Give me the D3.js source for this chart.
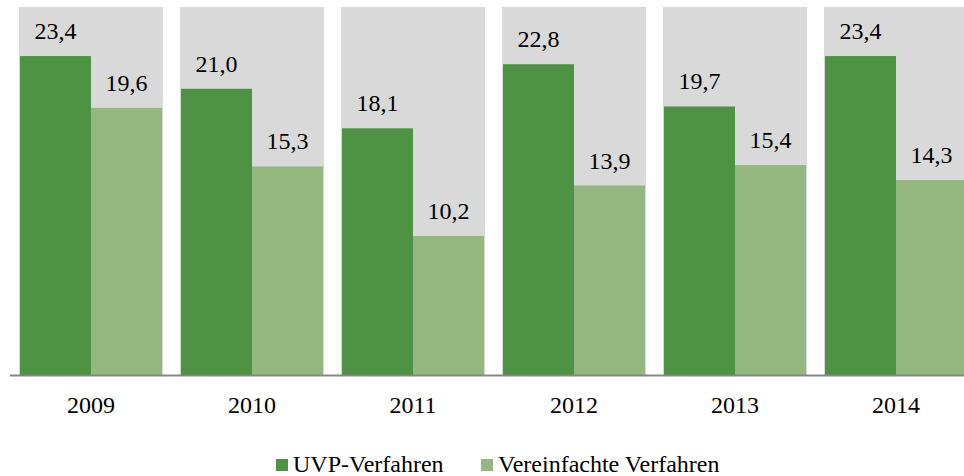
<!DOCTYPE html>
<html>
<head>
<meta charset="utf-8">
<script src="https://cdn.jsdelivr.net/npm/d3@7"></script>
<style>
  body { margin: 0; background: #fff; }
</style>
</head>
<body>
<div id="chart"></div>
<script>
var years = ["2009", "2010", "2011", "2012", "2013", "2014"];
var uvp = [23.4, 21.0, 18.1, 22.8, 19.7, 23.4];
var vereinfacht = [19.6, 15.3, 10.2, 13.9, 15.4, 14.3];
var seriesNames = ["UVP-Verfahren", "Vereinfachte Verfahren"];
var colors = ["#4e9244", "#93b77f"];

var width = 964, height = 476;
var plotLeft = 19, step = 161, gap = 17, plotTop = 7, base = 375;
var fontSize = "24px";
var serif = "'Liberation Serif', 'Times New Roman', serif";

var svg = d3.select("#chart").append("svg")
    .attr("width", width)
    .attr("height", height);

// category bands (grey panel = band, white gap between)
var x = d3.scaleBand()
    .domain(years)
    .range([plotLeft, plotLeft + step * years.length - gap])
    .paddingInner(gap / step)
    .paddingOuter(0);

var y = d3.scaleLinear()
    .domain([0, 27])
    .range([base, plotTop]);

var inner = d3.scaleBand()
    .domain([0, 1])
    .range([1, x.bandwidth() - 1]);

// grey panels
svg.selectAll(".panel")
    .data(years)
    .enter().append("rect")
    .attr("class", "panel")
    .attr("x", function (d) { return x(d); })
    .attr("y", y(27))
    .attr("width", x.bandwidth())
    .attr("height", y(0) - y(27))
    .attr("fill", "#d9d9d9");

var data = [uvp, vereinfacht];

data.forEach(function (vals, s) {
    var g = svg.append("g");
    g.selectAll("rect")
        .data(vals)
        .enter().append("rect")
        .attr("x", function (d, i) { return x(years[i]) + inner(s); })
        .attr("y", function (d) { return y(d); })
        .attr("width", inner.bandwidth())
        .attr("height", function (d) { return y(0) - y(d); })
        .attr("fill", colors[s]);

    g.selectAll("text")
        .data(vals)
        .enter().append("text")
        .attr("x", function (d, i) { return x(years[i]) + inner(s) + inner.bandwidth() / 2; })
        .attr("y", function (d) { return y(d) - 17; })
        .attr("text-anchor", "middle")
        .style("font-size", fontSize)
        .style("font-family", serif)
        .style("fill", "#000")
        .text(function (d) { return d.toFixed(1).replace(".", ","); });
});

// x axis
var axis = svg.append("g")
    .attr("transform", "translate(0," + (base + 0.5) + ")")
    .call(d3.axisBottom(x).tickSize(0).tickPadding(20));
axis.select(".domain")
    .attr("d", "M10,0H" + width)
    .attr("stroke", "#868686")
    .attr("stroke-width", 2);
axis.selectAll("text")
    .style("font-size", fontSize)
    .style("font-family", serif)
    .style("fill", "#000");

// legend
var legendX = [276, 481];
var legend = svg.selectAll(".legend")
    .data(seriesNames)
    .enter().append("g")
    .attr("class", "legend")
    .attr("transform", function (d, i) { return "translate(" + legendX[i] + ",459)"; });
legend.append("rect")
    .attr("width", 12)
    .attr("height", 12)
    .attr("fill", function (d, i) { return colors[i]; });
legend.append("text")
    .attr("x", 17)
    .attr("y", 13)
    .style("font-size", fontSize)
    .style("font-family", serif)
    .style("fill", "#000")
    .text(function (d) { return d; });
</script>
</body>
</html>
